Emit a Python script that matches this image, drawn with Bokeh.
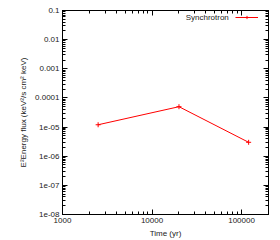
from bokeh.plotting import figure
from bokeh.models import (LogAxis, LogTicker, Legend, LegendItem, Label, Range1d,
                          CustomJSTickFormatter)
from bokeh.embed import file_html
from bokeh.resources import INLINE

# data
time_yr = [2500, 20000, 120000]
flux = [1.2e-5, 5e-5, 3e-6]
series_name = "Synchrotron"

FONT = "Liberation Sans"
FS = "8px"
RED = "#ff0000"

p = figure(width=280, height=240, x_axis_type="log", y_axis_type="log",
           x_range=Range1d(1000, 200000), y_range=Range1d(1e-8, 0.1),
           output_backend="svg", toolbar_location=None,
           min_border_left=62, min_border_right=12, min_border_top=10, min_border_bottom=25)
p.background_fill_color = "white"
p.border_fill_color = "white"
p.outline_line_color = "black"
p.outline_line_width = 1
p.grid.visible = False

r_line = p.line(time_yr, flux, line_color=RED, line_width=1)
r_pts = p.scatter(time_yr, flux, marker="cross", size=5, line_color=RED, line_width=1)

def style(ax, labels=True):
    ax.major_tick_in = 5
    ax.major_tick_out = 0
    ax.minor_tick_in = 3
    ax.minor_tick_out = 0
    ax.axis_line_color = "black"
    ax.major_tick_line_color = "black"
    ax.minor_tick_line_color = "black"
    ax.major_label_text_font = FONT
    ax.major_label_text_font_size = FS
    ax.major_label_text_color = "#222222" if labels else None
    ax.axis_label_text_font = FONT
    ax.axis_label_text_font_size = FS
    ax.axis_label_text_font_style = "normal"
    ax.axis_label_text_color = "#222222"
    ax.major_label_standoff = 3

fmt_code = """
const e = Math.round(Math.log10(tick));
if (e >= 0) return String(Math.round(tick));
if (e >= -4) return tick.toFixed(-e);
const a = Math.abs(e);
return "1e-" + (a < 10 ? "0" + a : String(a));
"""

p.xaxis.ticker = LogTicker(desired_num_ticks=3, num_minor_ticks=10)
p.yaxis.ticker = LogTicker(desired_num_ticks=8, num_minor_ticks=10)
p.xaxis.formatter = CustomJSTickFormatter(code=fmt_code)
p.yaxis.formatter = CustomJSTickFormatter(code=fmt_code)
p.xaxis.axis_label = "Time (yr)"
p.yaxis.axis_label = "E²Energy flux (keV²/s cm² keV)"
for ax in p.xaxis + p.yaxis:
    style(ax)
p.xaxis.axis_label_standoff = 3
p.yaxis.axis_label_standoff = 4

top = LogAxis(ticker=LogTicker(desired_num_ticks=3, num_minor_ticks=10))
style(top, labels=False)
right = LogAxis(ticker=LogTicker(desired_num_ticks=8, num_minor_ticks=10))
style(right, labels=False)
top.major_label_standoff = 0
right.major_label_standoff = 0
p.add_layout(top, "above")
p.add_layout(right, "right")

legend = Legend(items=[LegendItem(label=" ", renderers=[r_line, r_pts])],
                location="top_right", glyph_width=23, glyph_height=8,
                label_text_font_size=FS, background_fill_alpha=0,
                border_line_alpha=0, padding=1, margin=2, label_standoff=5,
                label_width=2, label_height=8)
p.add_layout(legend)
p.add_layout(Label(x=72000, y=0.056, text=series_name, text_font=FONT,
                   text_font_size=FS, text_color="#222222",
                   text_align="right", text_baseline="middle"))

open("out.html", "w").write(file_html(p, INLINE))
